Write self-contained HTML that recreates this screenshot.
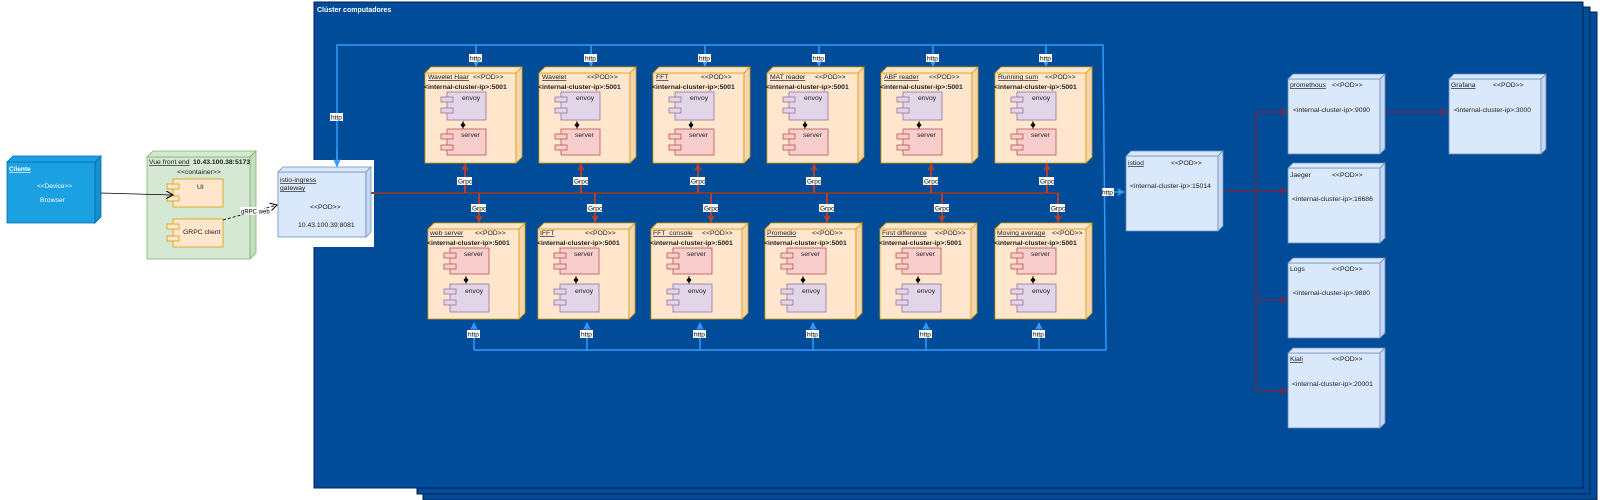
<!DOCTYPE html>
<html><head><meta charset="utf-8"><style>
html,body{margin:0;padding:0;background:#fff;}
svg{display:block;font-family:"Liberation Sans",sans-serif;}
.t{font-size:6.8px;fill:#222;}
.b{font-weight:bold;}
.u{text-decoration:underline;}
.lbl{font-size:6.5px;fill:#000;}
</style></head><body>
<svg width="1600" height="500" viewBox="0 0 1600 500" xmlns="http://www.w3.org/2000/svg">
<defs>
<marker id="ab" markerWidth="8" markerHeight="8" refX="7" refY="4" orient="auto" markerUnits="userSpaceOnUse"><path d="M0,0 L8,4 L0,8 L2,4 z" fill="#3399FF"/></marker>
<marker id="ar" markerWidth="8" markerHeight="8" refX="7" refY="4" orient="auto" markerUnits="userSpaceOnUse"><path d="M0,0 L8,4 L0,8 L2,4 z" fill="#AE4132"/></marker>
<marker id="am" markerWidth="8" markerHeight="8" refX="7" refY="4" orient="auto" markerUnits="userSpaceOnUse"><path d="M0,0 L8,4 L0,8 L2,4 z" fill="#6E2B4C"/></marker>
<marker id="ak" markerWidth="8" markerHeight="8" refX="7" refY="4" orient="auto" markerUnits="userSpaceOnUse"><path d="M0,0 L7,4 L0,8" fill="none" stroke="#000"/></marker>
<g id="pod">
<rect x="0" y="6" width="91" height="90" fill="#FFE6CC" stroke="#D79B00" stroke-width="0.8"/>
<polygon points="0,6 6,0 97,0 91,6" fill="#FFE6CC" stroke="#D79B00" stroke-width="0.8"/>
<polygon points="91,6 97,0 97,90 91,96" fill="#F5D6B0" stroke="#D79B00" stroke-width="0.8"/>
</g>
<g id="env"><rect x="22" y="0" width="39" height="28" fill="#E1D5E7" stroke="#9673A6" stroke-width="0.8"/><rect x="16" y="5" width="12" height="5" fill="#E1D5E7" stroke="#9673A6" stroke-width="0.8"/><rect x="16" y="16" width="12" height="5" fill="#E1D5E7" stroke="#9673A6" stroke-width="0.8"/></g>
<g id="srv"><rect x="22" y="0" width="39" height="26" fill="#F8CECC" stroke="#B85450" stroke-width="0.8"/><rect x="16" y="5" width="12" height="5" fill="#F8CECC" stroke="#B85450" stroke-width="0.8"/><rect x="16" y="16" width="12" height="5" fill="#F8CECC" stroke="#B85450" stroke-width="0.8"/></g>
<g id="dia"><line x1="38" y1="0" x2="38" y2="8" stroke="#000" stroke-width="0.8"/><polygon points="38,1 40.5,4 38,7 35.5,4" fill="#000"/></g>
<g id="bn">
<rect x="0" y="5" width="92" height="75" fill="#DAE8FC" stroke="#6C8EBF" stroke-width="0.8"/>
<polygon points="0,5 5,0 97,0 92,5" fill="#DAE8FC" stroke="#6C8EBF" stroke-width="0.8"/>
<polygon points="92,5 97,0 97,75 92,80" fill="#C6D8F2" stroke="#6C8EBF" stroke-width="0.8"/>
</g>
</defs>

<rect x="423" y="12" width="1174" height="488" fill="#004C99" stroke="#001F4D" stroke-width="1"/>
<rect x="417" y="7" width="1173" height="487" fill="#004C99" stroke="#001F4D" stroke-width="1"/>
<rect x="314" y="2" width="1269" height="486" fill="#004C99" stroke="#001F4D" stroke-width="1"/>
<text x="317" y="12" font-size="7" fill="#fff" class="b">Clúster computadores</text>

<rect x="260" y="160" width="114" height="87" fill="#fff"/>

<g stroke="#3399FF" stroke-width="1.5" fill="none">
<polyline points="337,167 337,45 1103,45 1106,350 474,350"/>
<line x1="337" y1="150" x2="337" y2="166" marker-end="url(#ab)"/>
<line x1="476" y1="45" x2="476" y2="66" marker-end="url(#ab)"/>
<line x1="591" y1="45" x2="591" y2="66" marker-end="url(#ab)"/>
<line x1="705" y1="45" x2="705" y2="66" marker-end="url(#ab)"/>
<line x1="819" y1="45" x2="819" y2="66" marker-end="url(#ab)"/>
<line x1="933" y1="45" x2="933" y2="66" marker-end="url(#ab)"/>
<line x1="1046" y1="45" x2="1046" y2="66" marker-end="url(#ab)"/>
<line x1="474" y1="350" x2="474" y2="323" marker-end="url(#ab)"/>
<line x1="587" y1="350" x2="587" y2="323" marker-end="url(#ab)"/>
<line x1="700" y1="350" x2="700" y2="323" marker-end="url(#ab)"/>
<line x1="813" y1="350" x2="813" y2="323" marker-end="url(#ab)"/>
<line x1="926" y1="350" x2="926" y2="323" marker-end="url(#ab)"/>
<line x1="1039" y1="350" x2="1039" y2="323" marker-end="url(#ab)"/>
<line x1="1104" y1="192" x2="1124" y2="192" marker-end="url(#ab)"/>
</g>
<g class="lbl">
<rect x="330" y="113" width="13" height="8" fill="#fff"/><text x="331" y="119.5">http</text>
<rect x="1102" y="188" width="12" height="8" fill="#fff"/><text x="1102" y="194.5">http</text>
<rect x="469" y="54" width="13" height="8" fill="#fff"/><text x="470" y="60.5">http</text>
<rect x="584" y="54" width="13" height="8" fill="#fff"/><text x="585" y="60.5">http</text>
<rect x="698" y="54" width="13" height="8" fill="#fff"/><text x="699" y="60.5">http</text>
<rect x="812" y="54" width="13" height="8" fill="#fff"/><text x="813" y="60.5">http</text>
<rect x="926" y="54" width="13" height="8" fill="#fff"/><text x="927" y="60.5">http</text>
<rect x="1039" y="54" width="13" height="8" fill="#fff"/><text x="1040" y="60.5">http</text>
<rect x="467" y="330" width="13" height="8" fill="#fff"/><text x="468" y="336.5">http</text>
<rect x="580" y="330" width="13" height="8" fill="#fff"/><text x="581" y="336.5">http</text>
<rect x="693" y="330" width="13" height="8" fill="#fff"/><text x="694" y="336.5">http</text>
<rect x="806" y="330" width="13" height="8" fill="#fff"/><text x="807" y="336.5">http</text>
<rect x="919" y="330" width="13" height="8" fill="#fff"/><text x="920" y="336.5">http</text>
<rect x="1032" y="330" width="13" height="8" fill="#fff"/><text x="1033" y="336.5">http</text>
</g>

<line x1="370" y1="193" x2="1058" y2="193" stroke="#7A3B3B" stroke-width="2"/>
<g stroke="#AE4132" stroke-width="2" fill="none">
<line x1="465" y1="193" x2="465" y2="164" marker-end="url(#ar)"/>
<line x1="581" y1="193" x2="581" y2="164" marker-end="url(#ar)"/>
<line x1="698" y1="193" x2="698" y2="164" marker-end="url(#ar)"/>
<line x1="814" y1="193" x2="814" y2="164" marker-end="url(#ar)"/>
<line x1="931" y1="193" x2="931" y2="164" marker-end="url(#ar)"/>
<line x1="1047" y1="193" x2="1047" y2="164" marker-end="url(#ar)"/>
<line x1="479" y1="193" x2="479" y2="222" marker-end="url(#ar)"/>
<line x1="595" y1="193" x2="595" y2="222" marker-end="url(#ar)"/>
<line x1="711" y1="193" x2="711" y2="222" marker-end="url(#ar)"/>
<line x1="827" y1="193" x2="827" y2="222" marker-end="url(#ar)"/>
<line x1="942" y1="193" x2="942" y2="222" marker-end="url(#ar)"/>
<line x1="1058" y1="193" x2="1058" y2="222" marker-end="url(#ar)"/>
</g>
<g class="lbl">
<rect x="457" y="177" width="15" height="8" fill="#fff"/><text x="458" y="183.5">Grpc</text>
<rect x="573" y="177" width="15" height="8" fill="#fff"/><text x="574" y="183.5">Grpc</text>
<rect x="690" y="177" width="15" height="8" fill="#fff"/><text x="691" y="183.5">Grpc</text>
<rect x="806" y="177" width="15" height="8" fill="#fff"/><text x="807" y="183.5">Grpc</text>
<rect x="923" y="177" width="15" height="8" fill="#fff"/><text x="924" y="183.5">Grpc</text>
<rect x="1039" y="177" width="15" height="8" fill="#fff"/><text x="1040" y="183.5">Grpc</text>
<rect x="471" y="204" width="15" height="8" fill="#fff"/><text x="472" y="210.5">Grpc</text>
<rect x="587" y="204" width="15" height="8" fill="#fff"/><text x="588" y="210.5">Grpc</text>
<rect x="703" y="204" width="15" height="8" fill="#fff"/><text x="704" y="210.5">Grpc</text>
<rect x="819" y="204" width="15" height="8" fill="#fff"/><text x="820" y="210.5">Grpc</text>
<rect x="934" y="204" width="15" height="8" fill="#fff"/><text x="935" y="210.5">Grpc</text>
<rect x="1050" y="204" width="15" height="8" fill="#fff"/><text x="1051" y="210.5">Grpc</text>
</g>

<g transform="translate(425,67)"><use href="#pod"/><text class="t u" x="3" y="12">Wavelet Haar</text><text class="t" x="48" y="12">&lt;&lt;POD&gt;&gt;</text><text class="t b" x="-1" y="22">&lt;internal-cluster-ip&gt;:5001</text><use href="#env" y="25"/><text class="t" x="37" y="33">envoy</text><use href="#dia" y="54"/><use href="#srv" y="62"/><text class="t" x="36" y="70">server</text></g>
<g transform="translate(539,67)"><use href="#pod"/><text class="t u" x="3" y="12">Wavelet</text><text class="t" x="48" y="12">&lt;&lt;POD&gt;&gt;</text><text class="t b" x="-1" y="22">&lt;internal-cluster-ip&gt;:5001</text><use href="#env" y="25"/><text class="t" x="37" y="33">envoy</text><use href="#dia" y="54"/><use href="#srv" y="62"/><text class="t" x="36" y="70">server</text></g>
<g transform="translate(653,67)"><use href="#pod"/><text class="t u" x="3" y="12">FFT</text><text class="t" x="48" y="12">&lt;&lt;POD&gt;&gt;</text><text class="t b" x="-1" y="22">&lt;internal-cluster-ip&gt;:5001</text><use href="#env" y="25"/><text class="t" x="37" y="33">envoy</text><use href="#dia" y="54"/><use href="#srv" y="62"/><text class="t" x="36" y="70">server</text></g>
<g transform="translate(767,67)"><use href="#pod"/><text class="t u" x="3" y="12">MAT reader</text><text class="t" x="48" y="12">&lt;&lt;POD&gt;&gt;</text><text class="t b" x="-1" y="22">&lt;internal-cluster-ip&gt;:5001</text><use href="#env" y="25"/><text class="t" x="37" y="33">envoy</text><use href="#dia" y="54"/><use href="#srv" y="62"/><text class="t" x="36" y="70">server</text></g>
<g transform="translate(881,67)"><use href="#pod"/><text class="t u" x="3" y="12">ABF reader</text><text class="t" x="48" y="12">&lt;&lt;POD&gt;&gt;</text><text class="t b" x="-1" y="22">&lt;internal-cluster-ip&gt;:5001</text><use href="#env" y="25"/><text class="t" x="37" y="33">envoy</text><use href="#dia" y="54"/><use href="#srv" y="62"/><text class="t" x="36" y="70">server</text></g>
<g transform="translate(995,67)"><use href="#pod"/><text class="t u" x="3" y="12">Running sum</text><text class="t" x="50" y="12">&lt;&lt;POD&gt;&gt;</text><text class="t b" x="-1" y="22">&lt;internal-cluster-ip&gt;:5001</text><use href="#env" y="25"/><text class="t" x="37" y="33">envoy</text><use href="#dia" y="54"/><use href="#srv" y="62"/><text class="t" x="36" y="70">server</text></g>

<g transform="translate(428,223)"><use href="#pod"/><text class="t u" x="2" y="12">web server</text><text class="t" x="47" y="12">&lt;&lt;POD&gt;&gt;</text><text class="t b" x="-1" y="22">&lt;internal-cluster-ip&gt;:5001</text><use href="#srv" y="25"/><text class="t" x="36" y="33">server</text><use href="#dia" y="53"/><use href="#env" y="61"/><text class="t" x="37" y="70">envoy</text></g>
<g transform="translate(538,223)"><use href="#pod"/><text class="t u" x="2" y="12">IFFT</text><text class="t" x="47" y="12">&lt;&lt;POD&gt;&gt;</text><text class="t b" x="-1" y="22">&lt;internal-cluster-ip&gt;:5001</text><use href="#srv" y="25"/><text class="t" x="36" y="33">server</text><use href="#dia" y="53"/><use href="#env" y="61"/><text class="t" x="37" y="70">envoy</text></g>
<g transform="translate(651,223)"><use href="#pod"/><text class="t u" x="2" y="12">FFT_console</text><text class="t" x="51" y="12">&lt;&lt;POD&gt;&gt;</text><text class="t b" x="-1" y="22">&lt;internal-cluster-ip&gt;:5001</text><use href="#srv" y="25"/><text class="t" x="36" y="33">server</text><use href="#dia" y="53"/><use href="#env" y="61"/><text class="t" x="37" y="70">envoy</text></g>
<g transform="translate(765,223)"><use href="#pod"/><text class="t u" x="2" y="12">Promedio</text><text class="t" x="47" y="12">&lt;&lt;POD&gt;&gt;</text><text class="t b" x="-1" y="22">&lt;internal-cluster-ip&gt;:5001</text><use href="#srv" y="25"/><text class="t" x="36" y="33">server</text><use href="#dia" y="53"/><use href="#env" y="61"/><text class="t" x="37" y="70">envoy</text></g>
<g transform="translate(880,223)"><use href="#pod"/><text class="t u" x="2" y="12">First difference</text><text class="t" x="55" y="12">&lt;&lt;POD&gt;&gt;</text><text class="t b" x="-1" y="22">&lt;internal-cluster-ip&gt;:5001</text><use href="#srv" y="25"/><text class="t" x="36" y="33">server</text><use href="#dia" y="53"/><use href="#env" y="61"/><text class="t" x="37" y="70">envoy</text></g>
<g transform="translate(995,223)"><use href="#pod"/><text class="t u" x="2" y="12">Moving average</text><text class="t" x="57" y="12">&lt;&lt;POD&gt;&gt;</text><text class="t b" x="-1" y="22">&lt;internal-cluster-ip&gt;:5001</text><use href="#srv" y="25"/><text class="t" x="36" y="33">server</text><use href="#dia" y="53"/><use href="#env" y="61"/><text class="t" x="37" y="70">envoy</text></g>

<g stroke="#6E2B4C" stroke-width="1.5" fill="none">
<line x1="1223" y1="191" x2="1256" y2="191"/>
<line x1="1256" y1="112" x2="1256" y2="391"/>
<line x1="1256" y1="112" x2="1287" y2="112" marker-end="url(#am)"/>
<line x1="1256" y1="191" x2="1287" y2="191" marker-end="url(#am)"/>
<line x1="1256" y1="300" x2="1287" y2="300" marker-end="url(#am)"/>
<line x1="1256" y1="391" x2="1287" y2="391" marker-end="url(#am)"/>
<line x1="1385" y1="112" x2="1447" y2="112" marker-end="url(#am)"/>
</g>

<g transform="translate(1126,151)"><use href="#bn"/><text class="t u" x="2" y="14" font-size="6.5">istiod</text><text class="t" x="45" y="14" font-size="6.5">&lt;&lt;POD&gt;&gt;</text><text class="t" x="4" y="37" font-size="6.5">&lt;internal-cluster-ip&gt;:15014</text></g>
<g transform="translate(1288,74)"><use href="#bn"/><text class="t u" x="2" y="13" font-size="6.5">promethous</text><text class="t" x="44" y="13" font-size="6.5">&lt;&lt;POD&gt;&gt;</text><text class="t" x="5" y="38" font-size="6.5">&lt;internal-cluster-ip&gt;:9090</text></g>
<g transform="translate(1449,74)"><use href="#bn"/><text class="t u" x="2" y="13" font-size="6.5">Grafana</text><text class="t" x="44" y="13" font-size="6.5">&lt;&lt;POD&gt;&gt;</text><text class="t" x="5" y="38" font-size="6.5">&lt;internal-cluster-ip&gt;:3000</text></g>
<g transform="translate(1288,163)"><use href="#bn"/><text class="t" x="2" y="14" font-size="6.5">Jaeger</text><text class="t" x="44" y="14" font-size="6.5">&lt;&lt;POD&gt;&gt;</text><text class="t" x="4" y="38" font-size="6.5">&lt;internal-cluster-ip&gt;:16686</text></g>
<g transform="translate(1288,258)"><use href="#bn"/><text class="t" x="2" y="13" font-size="6.5">Logs</text><text class="t" x="44" y="13" font-size="6.5">&lt;&lt;POD&gt;&gt;</text><text class="t" x="5" y="37" font-size="6.5">&lt;internal-cluster-ip&gt;:9880</text></g>
<g transform="translate(1288,348)"><use href="#bn"/><text class="t u" x="2" y="13" font-size="6.5">Kiali</text><text class="t" x="44" y="13" font-size="6.5">&lt;&lt;POD&gt;&gt;</text><text class="t" x="4" y="38" font-size="6.5">&lt;internal-cluster-ip&gt;:20001</text></g>

<g transform="translate(278,167)">
<rect x="0" y="5" width="88" height="65" fill="#DAE8FC" stroke="#6C8EBF" stroke-width="0.8"/>
<polygon points="0,5 5,0 93,0 88,5" fill="#DAE8FC" stroke="#6C8EBF" stroke-width="0.8"/>
<polygon points="88,5 93,0 93,65 88,70" fill="#C6D8F2" stroke="#6C8EBF" stroke-width="0.8"/>
<text class="t u" x="2" y="15" font-size="6.5">istio-ingress</text><text class="t u" x="2" y="23" font-size="6.5">gateway</text>
<text class="t" x="32" y="42" font-size="6.5">&lt;&lt;POD&gt;&gt;</text>
<text class="t" x="20" y="60" font-size="6.8">10.43.100.39:8081</text>
</g>

<g transform="translate(7,156)">
<rect x="0" y="6" width="88" height="61" fill="#1BA1E2" stroke="#006EAF" stroke-width="0.8"/>
<polygon points="0,6 6,0 94,0 88,6" fill="#1BA1E2" stroke="#006EAF" stroke-width="0.8"/>
<polygon points="88,6 94,0 94,61 88,67" fill="#1690CC" stroke="#006EAF" stroke-width="0.8"/>
<text x="2" y="15" font-size="6.5" fill="#fff" class="b u">Cliente</text>
<text x="30" y="32" font-size="6.5" fill="#fff">&lt;&lt;Device&gt;&gt;</text>
<text x="33" y="46" font-size="6.8" fill="#fff">Browser</text>
</g>

<g transform="translate(147,151)">
<rect x="0" y="6" width="103" height="102" fill="#D5E8D4" stroke="#82B366" stroke-width="0.8"/>
<polygon points="0,6 6,0 109,0 103,6" fill="#D5E8D4" stroke="#82B366" stroke-width="0.8"/>
<polygon points="103,6 109,0 109,102 103,108" fill="#C4DCC2" stroke="#82B366" stroke-width="0.8"/>
<text class="t u" x="2" y="13" font-size="6.5">Vue front end</text>
<text class="t b" x="46" y="13" font-size="6.5">10.43.100.38:5173</text>
<text class="t" x="30" y="23" font-size="6.5">&lt;&lt;container&gt;&gt;</text>
<rect x="26" y="28" width="50" height="28" fill="#FFE6CC" stroke="#D79B00" stroke-width="0.8"/>
<rect x="20" y="33" width="12" height="5" fill="#FFE6CC" stroke="#D79B00" stroke-width="0.8"/>
<rect x="20" y="45" width="12" height="5" fill="#FFE6CC" stroke="#D79B00" stroke-width="0.8"/>
<text class="t" x="50" y="38" font-size="6.5">UI</text>
<rect x="26" y="68" width="50" height="28" fill="#FFE6CC" stroke="#D79B00" stroke-width="0.8"/>
<rect x="20" y="73" width="12" height="5" fill="#FFE6CC" stroke="#D79B00" stroke-width="0.8"/>
<rect x="20" y="85" width="12" height="5" fill="#FFE6CC" stroke="#D79B00" stroke-width="0.8"/>
<text class="t" x="36" y="83" font-size="7">GRPC client</text>
</g>

<line x1="101" y1="193" x2="173" y2="195" stroke="#000" stroke-width="0.8" marker-end="url(#ak)"/>
<line x1="223" y1="220" x2="277" y2="205" stroke="#000" stroke-width="0.8" stroke-dasharray="3,2" marker-end="url(#ak)"/>
<rect x="240" y="207" width="24" height="8" fill="#fff"/>
<text x="241" y="213.5" font-size="6" fill="#000">gRPC web</text>
</svg>
</body></html>
